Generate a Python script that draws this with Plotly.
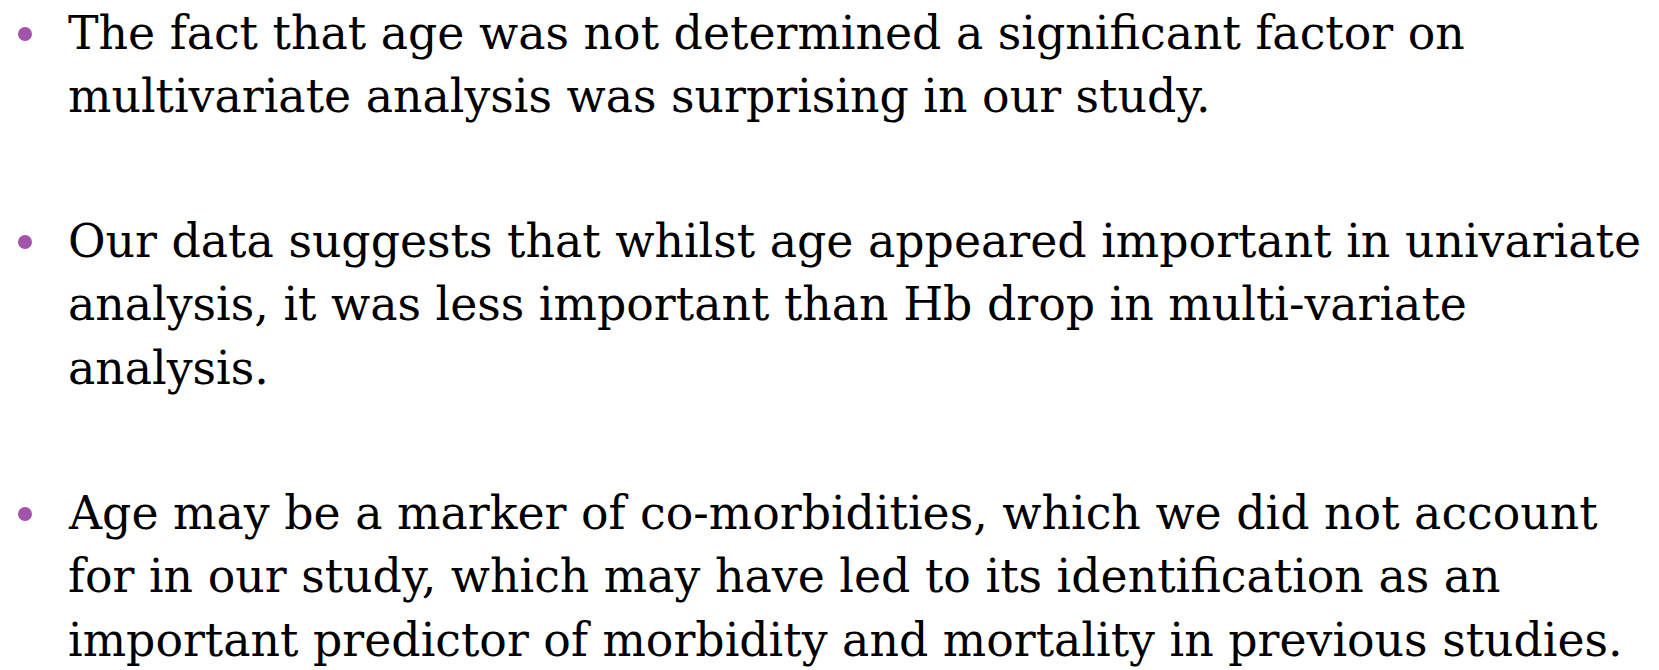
import plotly.graph_objects as go

# Slide content: one list of wrapped lines per bullet
bullet_1 = [
    "The fact that age was not determined a significant factor on",
    "multivariate analysis was surprising in our study.",
]
bullet_2 = [
    "Our data suggests that whilst age appeared important in univariate",
    "analysis, it was less important than Hb drop in multi-variate",
    "analysis.",
]
bullet_3 = [
    "Age may be a marker of co-morbidities, which we did not account",
    "for in our study, which may have led to its identification as an",
    "important predictor of morbidity and mortality in previous studies.",
]
bullets = [bullet_1, bullet_2, bullet_3]

W, H = 1659, 670
OFF = 8  # default page (body) margin of the written HTML
FONT = "DejaVu Serif"
SIZE = 45.8
LINE_H = 63.5
first_baselines = [50, 258, 530]
text_x = 69 - OFF - 2
bullet_x = 25 - OFF
bullet_r = 7
bullet_color = "#A452AC"

fig = go.Figure()
annotations = []
shapes = []
for lines, b0 in zip(bullets, first_baselines):
    for i, line in enumerate(lines):
        base = b0 + i * LINE_H
        annotations.append(dict(
            x=text_x, y=base - OFF - 0.38 * SIZE, xref="x", yref="y",
            text=line, showarrow=False, xanchor="left", yanchor="middle",
            font=dict(family=FONT, size=SIZE, color="#000000"),
            borderpad=0,
        ))
    cy = b0 - 16 - OFF
    shapes.append(dict(
        type="circle", xref="x", yref="y",
        x0=bullet_x - bullet_r, x1=bullet_x + bullet_r,
        y0=cy - bullet_r, y1=cy + bullet_r,
        fillcolor=bullet_color, line=dict(width=0),
    ))

fig.update_layout(
    width=W, height=H,
    margin=dict(l=0, r=0, t=0, b=0),
    paper_bgcolor="white", plot_bgcolor="white",
    xaxis=dict(range=[0, W], visible=False, fixedrange=True),
    yaxis=dict(range=[H, 0], visible=False, fixedrange=True),
    annotations=annotations, shapes=shapes,
    showlegend=False,
)
fig.write_html("out.html", config={"displayModeBar": False})
